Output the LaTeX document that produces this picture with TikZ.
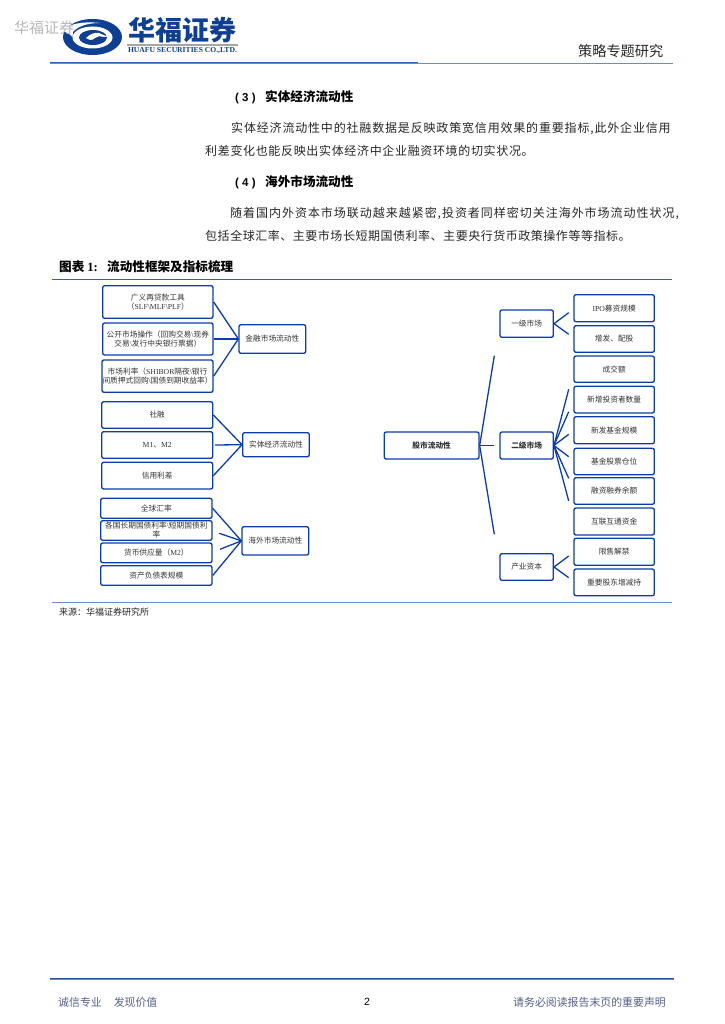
\documentclass[tikz,border=0pt]{standalone}
\usepackage{fontspec}
\setmainfont{Noto Sans CJK SC}
\newfontfamily\latinserif{Liberation Serif}
\newfontfamily\latinsans{Liberation Sans}
\newcommand{\ls}[1]{{\latinserif #1}}
\newcommand{\flp}{\char"FF08\relax}
\newcommand{\frp}{\char"FF09\relax}
\newcommand{\fcl}{\char"FF1A\relax}
\definecolor{boxblue}{HTML}{0A3DAA}
\definecolor{logoblue}{HTML}{0F3F93}
\definecolor{rulelight}{HTML}{6A8CCB}
\definecolor{ruledark}{HTML}{2A62B8}
\definecolor{footgrey}{HTML}{55608A}
\tikzset{
  bx/.style={draw=boxblue,line width=1.35pt,rounded corners=2pt,align=center,inner sep=0pt,font=\fontsize{7.7}{9}\selectfont,text=black!80},
  link/.style={draw=boxblue,line width=1.3pt},
  body/.style={anchor=west,inner sep=0pt,font=\fontsize{12}{12}\selectfont,text=black!85},
  head/.style={anchor=west,inner sep=0pt,font=\fontsize{12.6}{13}\selectfont\bfseries,text=black},
}
\newcommand{\bxn}[6]{%
  \pgfmathsetmacro{\cxv}{(#2+#4)/2}\pgfmathsetmacro{\cyv}{(#3+#5)/2}%
  \pgfmathsetmacro{\wv}{#4-#2}\pgfmathsetmacro{\hv}{#5-#3}%
  \node[bx,minimum width=\wv pt,minimum height=\hv pt] (#1) at (\cxv,\cyv) {#6};}
\begin{document}
\begin{tikzpicture}[x=1pt,y=-1pt]
\useasboundingbox (0,0) rectangle (724,1024);
% logo
\fill[logoblue] (92.5,37) ellipse [x radius=29.5,y radius=18];
\fill[white] (92.5,37.5) ellipse [x radius=20,y radius=11];
\fill[logoblue] (93,37.5) ellipse [x radius=14,y radius=7.5];
\fill[white] (62,31) .. controls (68,24) and (82,21) .. (100,23) .. controls (88,23) and (78,26) .. (73,32) -- (72.5,37) .. controls (69,33) and (65,32) .. (62,31) -- cycle;
\fill[white] (86,38) .. controls (90,34) and (95,32) .. (99,33) -- (108,37) -- (104,37) .. controls (100,36) and (97,36) .. (95,38) .. controls (92,41) and (89,40) .. (86,38) -- cycle;
\node[anchor=center,inner sep=0pt,font=\fontsize{27}{27}\selectfont\bfseries,text=logoblue] (brand) at (182.5,30.5) {华福证券};
\fill[black!35] (127,44.5) rectangle (237.5,46.5);
\node[anchor=center,inner sep=0pt,font=\latinserif\fontsize{7.6}{8}\selectfont\bfseries,text=logoblue] (brandlat) at (182.5,51) {HUAFU SECURITIES CO.,LTD.};
\node[anchor=west,inner sep=0pt,font=\fontsize{15}{15}\selectfont,text=black!28] (wm) at (14,28) {华福证券};
% header
\node[anchor=east,inner sep=0pt,font=\fontsize{14.2}{15}\selectfont,text=black!85] (hdr) at (663.5,51) {策略专题研究};
\draw[rulelight,line width=1pt] (50,63.3) -- (673,63.3);
\draw[ruledark,line width=1pt] (50,62.5) -- (418,62.5);
% body text
\node[head] (h3) at (235,97.5) {\makebox[30pt][l]{\latinsans\fontsize{11.5}{12}\selectfont\bfseries( 3 )}实体经济流动性};
\node[body] (p1a) at (231,129) {\addfontfeature{LetterSpace=6.9}实体经济流动性中的社融数据是反映政策宽信用效果的重要指标,此外企业信用};
\node[body] (p1b) at (205,151) {\addfontfeature{LetterSpace=5.5}利差变化也能反映出实体经济中企业融资环境的切实状况。};
\node[head] (h4) at (235,182) {\makebox[30pt][l]{\latinsans\fontsize{11.5}{12}\selectfont\bfseries( 4 )}海外市场流动性};
\node[body] (p2a) at (230,213.5) {\addfontfeature{LetterSpace=8.1}随着国内外资本市场联动越来越紧密,投资者同样密切关注海外市场流动性状况,};
\node[body] (p2b) at (205,235.5) {\addfontfeature{LetterSpace=4.4}包括全球汇率、主要市场长短期国债利率、主要央行货币政策操作等等指标。};
% figure title
\node[anchor=west,inner sep=0pt,font=\fontsize{12.6}{13}\selectfont\bfseries] (figt) at (59,267) {\makebox[48pt][l]{图表 \ls{1:}}流动性框架及指标梳理};
\draw[ruledark,line width=0.9pt] (52,279.5) -- (672,279.5);
\draw[rulelight,line width=0.8pt] (52,602.5) -- (672,602.5);
\node[anchor=west,inner sep=0pt,font=\fontsize{9}{10}\selectfont,text=black!85] (src) at (59,612.5) {来源\fcl 华福证券研究所};
% left boxes
\bxn{a1}{102.7}{285.7}{213}{318.3}{广义再贷款工具\\\flp\ls{SLF\textbackslash MLF\textbackslash PLF}\frp}
\bxn{a2}{102.7}{323}{213}{355}{公开市场操作\flp 回购交易\ls{\textbackslash}现券\\交易\ls{\textbackslash}发行中央银行票据\frp}
\bxn{a3}{102}{360}{213}{392.3}{市场利率\flp\ls{SHIBOR}隔夜\ls{\textbackslash}银行\\间质押式回购\ls{\textbackslash}国债到期收益率\frp}
\bxn{A}{239}{324.7}{305.7}{353.3}{金融市场流动性}
\bxn{b1}{101.7}{401.7}{212.7}{428.3}{社融}
\bxn{b2}{101.7}{431.7}{212.7}{458.3}{\ls{M1}、\ls{M2}}
\bxn{b3}{101.7}{462.3}{212.7}{489}{信用利差}
\bxn{B}{242.7}{432.7}{309.3}{456.7}{实体经济流动性}
\bxn{c1}{100.7}{498.3}{212}{518.3}{全球汇率}
\bxn{c2}{100.7}{520.7}{212}{540.3}{各国长期国债利率\ls{\textbackslash}短期国债利\\率}
\bxn{c3}{100.7}{543}{212}{562.7}{货币供应量\flp\ls{M2}\frp}
\bxn{c4}{100.7}{565.7}{212}{585.3}{资产负债表规模}
\bxn{C}{242}{526.7}{308.7}{555}{海外市场流动性}
% right boxes
\bxn{R}{384.3}{432}{479}{459}{\bfseries 股市流动性}
\bxn{P}{500}{310}{553.3}{337.3}{一级市场}
\bxn{Q}{500}{432}{553.3}{459}{\bfseries 二级市场}
\bxn{S}{500}{553.7}{553.3}{580.3}{产业资本}
\bxn{p1}{574}{294.7}{654.3}{321.7}{\ls{IPO}募资规模}
\bxn{p2}{574}{325.7}{654.3}{352.3}{增发、配股}
\bxn{q1}{574}{356}{654.3}{382.3}{成交额}
\bxn{q2}{574}{386.3}{654.3}{413}{新增投资者数量}
\bxn{q3}{574}{416.7}{654.3}{443.7}{新发基金规模}
\bxn{q4}{574}{448.3}{654.3}{474.7}{基金股票仓位}
\bxn{q5}{574}{477.7}{654.3}{504.3}{融资融券余额}
\bxn{q6}{574}{508}{654.3}{535}{互联互通资金}
\bxn{s1}{574}{538.3}{654.3}{565.3}{限售解禁}
\bxn{s2}{574}{569}{654.3}{595.7}{重要股东增减持}
% free ends
\coordinate (b2s) at (215,445);
\coordinate (c2s) at (219.3,533.3);
\coordinate (c3s) at (220,549.3);
\coordinate (Pu) at (568.7,312.7);
\coordinate (Pd) at (568.7,334.3);
\coordinate (Q2) at (568.7,389.3);
\coordinate (Q3) at (568.7,411.7);
\coordinate (Q4) at (568.7,434.3);
\coordinate (Q5) at (568.7,456.7);
\coordinate (Q6) at (568.7,478.3);
\coordinate (Q7) at (568.7,501);
\coordinate (Su) at (568.7,556);
\coordinate (Sd) at (568.7,577.7);
\coordinate (Rp) at (494.3,355.7);
\coordinate (Rq) at (494.3,445.5);
\coordinate (Rs) at (494.3,534.3);
% connectors
\foreach \n in {a1,a2,a3} \draw[link] (\n.east) -- (A.west);
\draw[link] (b1.east) -- (B.west);
\draw[link] (b2s) -- (B.west);
\draw[link] (b3.east) -- (B.west);
\draw[link] (c1.east) -- (C.west);
\draw[link] (c2s) -- (C.west);
\draw[link] (c3s) -- (C.west);
\draw[link] (c4.east) -- (C.west);
\draw[link] (P.east) -- (Pu);
\draw[link] (P.east) -- (Pd);
\foreach \n in {Q2,Q3,Q4,Q5,Q6,Q7} \draw[link] (Q.east) -- (\n);
\draw[link] (S.east) -- (Su);
\draw[link] (S.east) -- (Sd);
\draw[link] (R.east) -- (Rp);
\draw[link] (R.east) -- (Rq);
\draw[link] (R.east) -- (Rs);
% footer
\draw[ruledark!80!black,line width=1pt] (50,978.5) -- (674,978.5);
\draw[rulelight,line width=0.5pt] (50,979.5) -- (674,979.5);
\node[anchor=west,inner sep=0pt,font=\fontsize{10.9}{11}\selectfont,text=footgrey] (fl) at (58,1002) {诚信专业\hspace{12pt}发现价值};
\node[anchor=center,inner sep=0pt,font=\latinsans\fontsize{10.5}{11}\selectfont] (pg) at (367,1002) {2};
\node[anchor=east,inner sep=0pt,font=\fontsize{10.9}{11}\selectfont,text=footgrey] (fr) at (666,1002) {请务必阅读报告末页的重要声明};
\end{tikzpicture}
\end{document}
